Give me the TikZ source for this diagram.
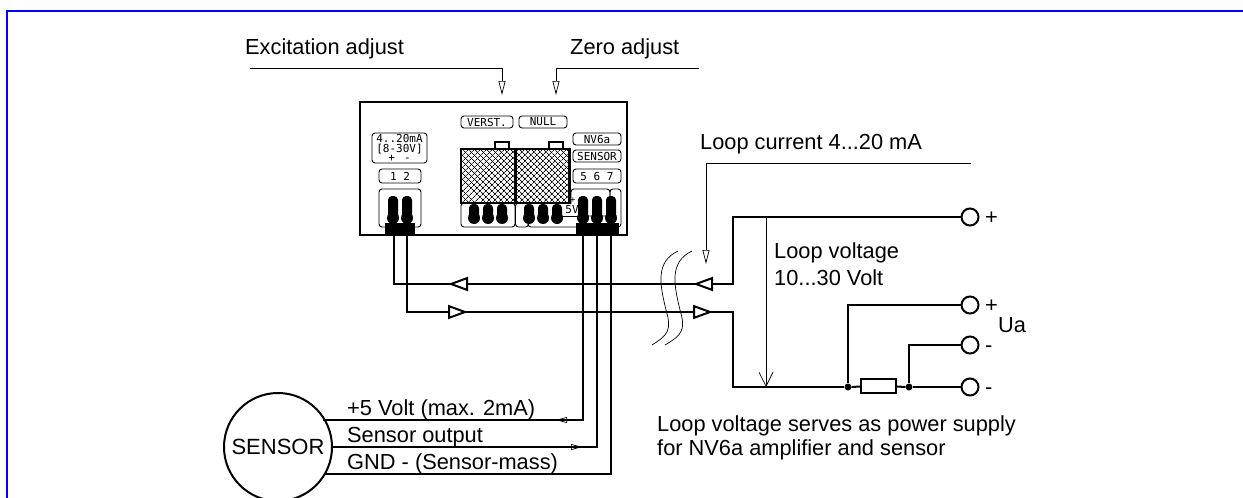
\documentclass[tikz,border=0pt]{standalone}
\usepackage{fontspec}
\setmainfont{Liberation Sans}
\usetikzlibrary{arrows.meta,patterns.meta,positioning}
\newfontfamily\platefont{DejaVu Sans Mono}
\definecolor{framecol}{RGB}{0,0,255}
\tikzset{
  wire/.style={line width=2pt},
  thinwire/.style={line width=0.7pt},
  label/.style={inner sep=0pt,anchor=base west,font=\fontsize{21.8}{24}\selectfont},
  plate/.style={draw,line width=0.9pt,rounded corners=3pt,minimum height=12pt,inner sep=0pt,font=\platefont\fontsize{11}{11}\selectfont},
  pinbody/.style={fill=black,rounded corners=4pt,minimum width=10pt,minimum height=26pt,inner sep=0pt},
  pinball/.style={circle,fill=black,minimum size=12pt,inner sep=0pt},
  bar/.style={fill=black,inner sep=0pt},
  hatchbox/.style={draw,line width=2.2pt,minimum width=54pt,minimum height=54pt,inner sep=0pt,
    pattern={Lines[angle=45,distance=4pt,line width=0.7pt]}},
  hatchtop/.style={pattern={Lines[angle=-45,distance=4pt,line width=0.7pt]},minimum width=52pt,minimum height=52pt,inner sep=0pt},
  tab/.style={draw,line width=2pt,minimum width=14pt,minimum height=7pt,inner sep=0pt},
  terminal/.style={circle,draw,line width=2pt,fill=white,minimum size=17pt,inner sep=0pt},
  junction/.style={circle,fill=black,minimum size=7pt,inner sep=0pt},
  bigtri/.style={-{Triangle[open,fill=white,length=20pt,width=14pt,line width=2pt]}},
  smalltri/.style={-{Triangle[open,length=11pt,width=6pt,line width=0.7pt]}},
  thinhead/.style={-{Triangle[open,length=14pt,width=7pt,line width=0.7pt]}},
  vhead/.style={-{Straight Barb[length=14pt,width=14pt,line width=0.7pt]}},
}
\begin{document}
\begin{tikzpicture}[x=1pt,y=-1pt]
  \useasboundingbox (0,0) rectangle (1243,498);
  \fill[white] (0,0) rectangle (1243,498);
  \draw[framecol,line width=2pt] (7,498) -- (7,11) -- (1243,11);

  % amplifier housing
  \node[draw,line width=2.2pt,minimum width=267pt,minimum height=133pt,inner sep=0pt] (housing) at (493.5,168.5) {};
  \node[plate,minimum width=52pt] (verst) at (487,122) {VERST.};
  \node[plate,minimum width=48pt] (null) at (543,122) {NULL};
  \node[plate,minimum width=55pt,minimum height=30pt,align=center,font=\platefont\fontsize{11}{9.5}\selectfont] (range) at (399.5,148) {4..20mA\\{[}8-30V{]}\\+\hspace{9pt}-};
  \node[plate,minimum width=42pt,minimum height=14pt] (plate_a) at (400,176) {1 2};
  \node[plate,minimum width=48pt] (type) at (597,139) {NV6a};
  \node[plate,minimum width=48pt] (sensorplate) at (597,156) {SENSOR};
  \node[plate,minimum width=48pt,minimum height=14pt] (plate_b) at (597,176) {5 6 7};

  % terminal strips
  \node[plate,minimum width=42pt,minimum height=38pt] (strip_a) at (400,208) {};
  \node[plate,minimum width=54pt,minimum height=24pt] (strip_b) at (488,215) {};
  \node[plate,minimum width=13pt,minimum height=24pt] (strip_c) at (522,215) {};
  \node[plate,minimum width=66pt,minimum height=24pt] (strip_d) at (561,215) {};
  \node[plate,fill=white,minimum width=39pt,minimum height=27pt] (strip_e) at (590.5,202.5) {};
  \node[plate,minimum width=11pt,minimum height=38pt] (strip_f) at (615.5,208) {};
  \node[fill=white,minimum width=12pt,minimum height=12pt,inner sep=0pt,font=\platefont\fontsize{11}{11}\selectfont] (fivev) at (572,210) {5V};
  \node[inner sep=0pt,font=\platefont\fontsize{8}{8}\selectfont] (plus) at (573,200) {+};
  \coordinate (ledge) at (561,216.5);
  \draw[line width=0.9pt] (ledge) -- (578,216.5);

  % trimmers
  \node[tab] (tab_a) at (502,145.5) {};
  \node[tab] (tab_b) at (556,145.5) {};
  \node[hatchbox] (trim_a) at (488,176) {};
  \node[hatchtop] at (trim_a) {};
  \node[hatchbox] (trim_b) at (542.5,176) {};
  \node[hatchtop] at (trim_b) {};

  % pins
  \node[pinbody] (p1) at (393,209) {};
  \node[pinbody] (p2) at (407,209) {};
  \node[pinball] at (393,218) {};
  \node[pinball] at (407,218) {};
  \node[pinbody,minimum height=16pt] (p3) at (474,212) {};
  \node[pinbody,minimum height=16pt] (p4) at (488,212) {};
  \node[pinbody,minimum height=16pt] (p5) at (502,212) {};
  \node[pinball] at (474,218) {};
  \node[pinball] at (488,218) {};
  \node[pinball] at (502,218) {};
  \node[pinbody,minimum height=16pt] (p6) at (529,212) {};
  \node[pinbody,minimum height=16pt] (p7) at (543,212) {};
  \node[pinbody,minimum height=16pt] (p8) at (557,212) {};
  \node[pinball] at (529,218) {};
  \node[pinball] at (543,218) {};
  \node[pinball] at (557,218) {};
  \node[pinbody] (p9) at (583,209) {};
  \node[pinbody] (p10) at (597,209) {};
  \node[pinbody] (p11) at (611,209) {};
  \node[pinball] at (583,218) {};
  \node[pinball] at (597,218) {};
  \node[pinball] at (611,218) {};
  \node[bar,minimum width=30pt,minimum height=12pt] (bar_a) at (400,229) {};
  \node[bar,minimum width=43pt,minimum height=12pt] (bar_b) at (597,229) {};

  % sensor and outer terminals
  \node[circle,draw,line width=2pt,minimum size=108pt,inner sep=0pt,font=\fontsize{22}{24}\selectfont] (sensor) at (278,447) {SENSOR};
  \node[terminal] (t_1) at (970,217) {};
  \node[terminal] (t_2) at (970,305) {};
  \node[terminal] (t_3) at (970,345) {};
  \node[terminal] (t_4) at (970,387) {};
  \node[junction] (j_1) at (848,387) {};
  \node[junction] (j_2) at (909,387) {};
  \node[draw,line width=2pt,fill=white,minimum width=35pt,minimum height=14pt,inner sep=0pt] (load) at (878.5,386) {};

  \coordinate (loop_a) at (733,284);
  \coordinate (loop_b) at (733,312);
  \coordinate (a_1) at (394,284);
  \coordinate (a_2) at (407,312);
  \coordinate (v_top) at (766,217);
  \coordinate (v_bot) at (766,387);
  \coordinate (s_1) at (323,420);
  \coordinate (s_3) at (325,474);

  % loop wires
  \draw[wire] (bar_a.south -| a_1) -- (a_1) -- (loop_a) -- (733,217) -- (t_1);
  \draw[wire] (bar_a.south -| a_2) -- (a_2) -- (loop_b) -- (733,387) -- (j_1);
  \draw[wire] (j_1) -- (load);
  \draw[wire] (load) -- (j_2);
  \draw[wire] (j_2) -- (t_4);
  \draw[wire] (j_1) |- (t_2);
  \draw[wire] (j_2) |- (t_3);
  \draw[wire,bigtri] (713,284) -- (693,284);
  \draw[wire,bigtri] (693,312) -- (713,312);
  \draw[wire,bigtri] (469,284) -- (448,284);
  \draw[wire,bigtri] (447,312) -- (468,312);

  % sensor wires
  \draw[wire] (p9 |- bar_b.south) |- (s_1);
  \draw[wire] (p10 |- bar_b.south) |- (sensor.east);
  \draw[wire] (p11 |- bar_b.south) |- (s_3);
  \draw[thinwire,smalltri] (568,420) -- (556,420);
  \draw[thinwire,smalltri] (570,447) -- (582,447);

  % adjust lines
  \coordinate (exc_a) at (250,68);
  \coordinate (exc_b) at (502,68);
  \coordinate (zero_a) at (699,68);
  \coordinate (zero_b) at (556,68);
  \coordinate (cur_a) at (971,163);
  \coordinate (cur_b) at (706,163);
  \draw[thinwire,thinhead] (exc_a) -- (exc_b) -- (502,95);
  \draw[thinwire,thinhead] (zero_a) -- (zero_b) -- (556,95);
  \draw[thinwire,thinhead] (cur_a) -- (cur_b) -- (706,264);
  \draw[thinwire,vhead] (v_top) -- (v_bot);

  % break marks
  \draw[thinwire] (678,251) .. controls (655,262) and (660,285) .. (666,310) .. controls (672,330) and (668,335) .. (652,345);
  \draw[thinwire] (692,251) .. controls (669,262) and (674,285) .. (680,310) .. controls (686,330) and (682,335) .. (665,345);

  % texts
  \node[label] (l_exc) at (245,54) {Excitation adjust};
  \node[label] (l_zero) at (570,54) {Zero adjust};
  \node[label] (l_cur) at (700,149) {Loop current 4...20 mA};
  \node[label] (l_v1) at (774,258) {Loop voltage};
  \node[label] (l_v2) at (774,285) {10...30 Volt};
  \node[label] (l_p1) at (985,224) {+};
  \node[label] (l_p2) at (985,312) {+};
  \node[label] (l_ua) at (998,332) {Ua};
  \node[label] (l_m1) at (985,352) {-};
  \node[label] (l_m2) at (985,394) {-};
  \node[label] (l_s1) at (347,415) {+5 Volt (max. 2mA)};
  \node[label] (l_s2) at (347,442) {Sensor output};
  \node[label] (l_s3) at (347,469) {GND - (Sensor-mass)};
  \node[label] (l_n1) at (657,431) {Loop voltage serves as power supply};
  \node[label] (l_n2) at (657,455) {for NV6a amplifier and sensor};
\end{tikzpicture}
\end{document}
